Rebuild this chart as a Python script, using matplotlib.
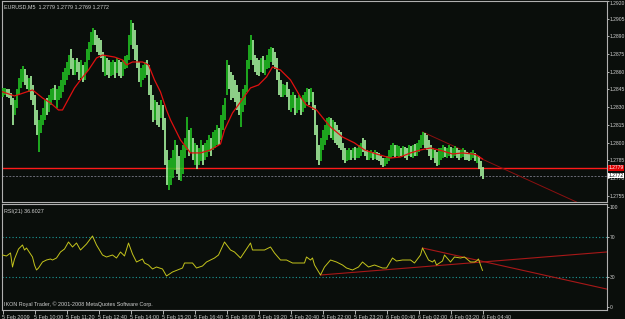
import numpy as np
import matplotlib
matplotlib.use("Agg")
import matplotlib.pyplot as plt
from matplotlib.transforms import blended_transform_factory

# ── Data: EURUSD M5, prices stored as pips above 1.2700 (one value per bar) ──
BASE, PIP = 1.2700, 0.0001

high_pips = [
    146, 146, 145, 145, 142, 138, 136, 145, 155, 162,
    165, 162, 157, 155, 156, 149, 140, 128, 119, 123,
    129, 136, 138, 140, 145, 146, 149, 145, 148, 153,
    160, 163, 168, 174, 179, 172, 170, 172, 168, 170,
    166, 168, 179, 185, 194, 197, 195, 191, 189, 187,
    177, 174, 172, 170, 168, 170, 168, 172, 170, 168,
    170, 173, 174, 191, 204, 201, 195, 183, 168, 163,
    166, 168, 170, 166, 149, 140, 136, 134, 132, 136,
    132, 121, 94, 85, 87, 94, 102, 98, 89, 94,
    98, 104, 122, 111, 112, 104, 100, 98, 95, 102,
    98, 100, 102, 106, 104, 109, 111, 115, 112, 123,
    132, 138, 170, 166, 160, 157, 153, 149, 143, 138,
    145, 149, 170, 183, 191, 187, 174, 172, 170, 172,
    173, 170, 174, 179, 181, 180, 177, 172, 160, 153,
    150, 149, 151, 145, 140, 143, 140, 138, 140, 138,
    140, 143, 146, 145, 146, 143, 132, 115, 98, 104,
    111, 115, 121, 122, 121, 119, 117, 115, 111, 109,
    100, 95, 94, 95, 94, 95, 96, 95, 98, 100,
    104, 102, 94, 92, 94, 92, 94, 92, 91, 89,
    87, 87, 89, 94, 98, 100, 98, 98, 97, 95,
    97, 96, 95, 98, 97, 98, 99, 100, 102, 106,
    109, 108, 106, 102, 98, 95, 94, 92, 95, 95,
    98, 96, 95, 98, 96, 95, 97, 95, 94, 94,
    95, 94, 92, 91, 92, 94, 91, 89, 89, 84,
    79,
]

low_pips = [
    139, 140, 139, 138, 132, 115, 123, 129, 140, 146,
    151, 149, 145, 143, 136, 132, 115, 106, 92, 108,
    115, 119, 123, 126, 132, 136, 136, 129, 136, 138,
    143, 149, 153, 157, 162, 157, 157, 160, 153, 155,
    151, 153, 160, 170, 177, 183, 183, 177, 174, 172,
    160, 156, 157, 155, 156, 157, 155, 159, 156, 155,
    156, 162, 163, 170, 183, 179, 170, 163, 151, 147,
    153, 155, 157, 140, 128, 117, 119, 115, 113, 121,
    111, 81, 64, 60, 64, 70, 77, 73, 68, 67,
    73, 87, 94, 89, 92, 85, 81, 78, 81, 84,
    81, 85, 88, 92, 89, 94, 95, 98, 98, 102,
    111, 119, 140, 145, 136, 138, 134, 128, 123, 113,
    126, 132, 143, 162, 170, 166, 160, 157, 156, 160,
    159, 157, 162, 163, 168, 166, 162, 153, 140, 139,
    139, 140, 139, 128, 126, 129, 123, 125, 128, 123,
    126, 129, 134, 132, 134, 128, 106, 85, 81, 84,
    94, 98, 102, 106, 104, 102, 100, 98, 95, 94,
    85, 83, 84, 85, 85, 87, 85, 87, 87, 89,
    92, 89, 85, 85, 87, 85, 86, 85, 84, 81,
    79, 80, 82, 84, 87, 89, 87, 89, 88, 89,
    89, 87, 85, 89, 88, 87, 89, 89, 92, 95,
    98, 95, 94, 89, 85, 87, 83, 80, 81, 85,
    87, 88, 87, 89, 87, 87, 89, 87, 85, 87,
    88, 85, 85, 84, 85, 87, 84, 83, 78, 72,
    69,
]

close_pips = [
    143, 145, 141, 140, 136, 129, 133, 140, 151, 157,
    160, 153, 149, 153, 140, 136, 121, 111, 115, 119,
    126, 132, 129, 136, 140, 143, 138, 140, 145, 149,
    155, 157, 162, 168, 166, 162, 168, 163, 157, 166,
    155, 163, 174, 180, 189, 194, 187, 185, 183, 177,
    163, 168, 162, 160, 162, 166, 160, 168, 162, 157,
    166, 168, 170, 187, 200, 195, 177, 168, 155, 157,
    162, 166, 162, 145, 132, 123, 132, 126, 119, 129,
    117, 85, 73, 77, 81, 85, 94, 78, 75, 81,
    94, 98, 106, 94, 102, 92, 94, 85, 89, 98,
    87, 94, 98, 102, 95, 104, 106, 111, 106, 119,
    128, 132, 162, 153, 149, 145, 140, 136, 128, 132,
    140, 145, 166, 174, 183, 172, 168, 163, 162, 166,
    163, 165, 170, 174, 177, 172, 170, 157, 146, 145,
    145, 146, 143, 132, 136, 138, 128, 134, 136, 132,
    136, 140, 143, 138, 140, 132, 111, 94, 89, 98,
    106, 111, 115, 117, 112, 115, 109, 104, 102, 98,
    89, 87, 89, 92, 89, 92, 89, 94, 95, 98,
    95, 94, 89, 89, 90, 89, 91, 88, 87, 84,
    81, 85, 87, 91, 94, 95, 92, 94, 94, 92,
    94, 92, 89, 94, 92, 95, 94, 98, 100, 104,
    106, 102, 98, 94, 92, 94, 85, 84, 89, 94,
    95, 92, 94, 95, 92, 94, 94, 92, 89, 91,
    94, 89, 88, 87, 89, 91, 85, 87, 81, 77,
    72,
]

# red moving average at these bars
ma_bar = [0, 6, 15, 20, 24, 28, 30, 33, 36, 39, 43, 47, 50, 56, 60, 62, 65,
          70, 73, 76, 79, 82, 84, 89, 94, 99, 104, 109, 111, 115, 119, 124,
          128, 132, 135, 139, 144, 149, 152, 157, 161, 164, 170, 176, 181,
          187, 194, 199, 204, 209, 214, 220, 225, 230, 235, 237, 240]
ma_pips = [143, 139.5, 144.6, 137.8, 133.6, 127.6, 127.6, 137, 146.3, 153.1,
           161.5, 171.7, 174.2, 172.5, 170, 165.8, 168.3, 168.3, 165.8, 153.1,
           142.9, 127.6, 119.2, 102.2, 91.2, 91.2, 93.7, 98.8, 110.7, 125.1,
           134.4, 146.3, 148.8, 155.6, 164.1, 161.5, 153.1, 138.6, 131.9,
           127.6, 119.2, 113.2, 104.7, 99.7, 93.7, 90.3, 86.9, 87.8, 91.2,
           93.7, 95.4, 92.9, 90.3, 91.2, 90.3, 89.5, 86.1]

# RSI(21)
rsi_bar = [0, 2, 4, 5, 6, 8, 10, 11, 12, 15, 16, 17, 18, 20, 22, 24, 25, 27,
           29, 31, 33, 35, 37, 39, 42, 45, 47, 50, 52, 55, 57, 59, 61, 63, 65,
           67, 70, 71, 73, 75, 77, 80, 82, 85, 90, 91, 95, 97, 100, 102, 106,
           108, 111, 114, 116, 119, 121, 124, 125, 128, 131, 134, 136, 139,
           142, 145, 149, 151, 152, 154, 155, 156, 159, 161, 164, 167, 170,
           172, 175, 178, 180, 183, 186, 190, 192, 195, 197, 200, 204, 206,
           209, 210, 213, 215, 216, 217, 220, 221, 224, 226, 229, 231, 234,
           236, 237, 238, 239, 240]
rsi_val = [52, 51, 54, 40, 48, 58, 62, 57, 59, 50, 42, 37, 39, 45, 47, 48, 47,
           49, 55, 58, 65, 60, 64, 57, 63, 71, 62, 52, 50, 52, 49, 55, 51, 64,
           53, 45, 48, 44, 42, 38, 40, 38, 31, 35, 39, 44, 44, 39, 41, 45, 49,
           52, 65, 57, 55, 49, 55, 64, 57, 57, 57, 60, 54, 47, 47, 44, 44, 44,
           50, 47, 49, 42, 32, 40, 47, 45, 42, 39, 37, 40, 45, 40, 42, 39, 39,
           49, 46, 47, 47, 44, 52, 59, 47, 45, 47, 42, 46, 52, 45, 50, 49, 50,
           45, 45, 46, 48, 42, 36.6]

price_ticks = [1.2920, 1.2905, 1.2890, 1.2875, 1.2860, 1.2845, 1.2830,
               1.2815, 1.2800, 1.2785, 1.2770, 1.2755]
rsi_ticks = [100, 70, 30, 0]
rsi_levels = [70, 30]

time_bar = [0, 16, 32, 48, 64, 80, 96, 112, 128, 144, 160, 176, 192, 208,
            224, 240]
time_labels = ["5 Feb 2009", "5 Feb 10:00", "5 Feb 11:20", "5 Feb 12:40",
               "5 Feb 14:00", "5 Feb 15:20", "5 Feb 16:40", "5 Feb 18:00",
               "5 Feb 19:20", "5 Feb 20:40", "5 Feb 22:00", "5 Feb 23:20",
               "6 Feb 00:40", "6 Feb 02:00", "6 Feb 03:20", "6 Feb 04:40"]

support_level = 1.27785
bid_price = 1.2772
trend_bar, trend_price = [210, 287], [1.2809, 1.27496]
rsi_up_bar, rsi_up_val = [159, 302], [32, 55]
rsi_dn_bar, rsi_dn_val = [210, 302], [59, 18]

# ── Style ─────────────────────────────────────────────────────────────────────
plt.rcParams["font.family"] = ["Liberation Sans Narrow", "Liberation Sans", "DejaVu Sans"]
BG = "#0a0e0b"
FRAME = "#b0b0b0"
TXT = "#d0d0d0"
FS = 3.9      # panel texts and time labels
FS_R = 3.6    # right-hand price scale

high = BASE + np.array(high_pips) * PIP
low = BASE + np.array(low_pips) * PIP
close = BASE + np.array(close_pips) * PIP
ma = BASE + np.array(ma_pips) * PIP
bars = np.arange(len(close))

W, H = 625, 319


def box(x0, y0, x1, y1):
    return [x0 / W, 1 - y1 / H, (x1 - x0) / W, (y1 - y0) / H]


fig = plt.figure(figsize=(W / 100, H / 100), dpi=100, facecolor=BG)
ax = fig.add_axes(box(2, 1, 607, 202), facecolor=BG)
ax2 = fig.add_axes(box(2, 204, 607, 310), facecolor=BG, sharex=ax)

for a in (ax, ax2):
    for s in a.spines.values():
        s.set_color(FRAME)
        s.set_linewidth(0.8)
    a.yaxis.tick_right()
    a.tick_params(axis="y", colors=TXT, labelsize=FS_R, length=1.5, width=0.6, pad=0.6)

# ── Price panel ───────────────────────────────────────────────────────────────
down = np.r_[False, np.diff(close) < 0]
colors = np.where(down, "#a8f5a0", "#22c322")
ax.vlines(bars, low, high, colors=colors, linewidth=1.2, zorder=3)

ax.plot(ma_bar, ma, color="#e01010", lw=0.9, zorder=4)
ax.axhline(support_level, color="#ff1a1a", lw=1.0, zorder=2)
ax.axhline(bid_price, color="#6c6c78", lw=0.7, ls=(0, (2, 1.5)), zorder=2)
ax.plot(trend_bar, trend_price, color="#8c1010", lw=0.7, zorder=2)

ax.set_xlim(-0.25, 302.25)
ax.set_ylim(1.27496, 1.2920)
ax.set_yticks(price_ticks)
ax.set_yticklabels([f"{t:.4f}" for t in price_ticks])
ax.get_yticklabels()[0].set_va("top")
ax.tick_params(axis="x", length=0, labelbottom=False)

ytr = blended_transform_factory(ax.transAxes, ax.transData)
ax.text(1.002, support_level, "1.2779", transform=ytr, fontsize=FS_R,
        color="white", va="center", ha="left", clip_on=False, zorder=10,
        bbox=dict(fc="#e00000", ec="none", pad=0.5))
ax.text(1.002, bid_price, "1.2772", transform=ytr, fontsize=FS_R,
        color="black", va="center", ha="left", clip_on=False, zorder=10,
        bbox=dict(fc="white", ec="none", pad=0.3))

ax.text(0.004, 0.985, "EURUSD,M5  1.2779 1.2779 1.2769 1.2772",
        transform=ax.transAxes, fontsize=FS, color=TXT, va="top", ha="left")

# ── RSI panel ─────────────────────────────────────────────────────────────────
for lv in rsi_levels:
    ax2.axhline(lv, color="#1e9a9a", lw=0.8, ls=(0, (1, 2)))
ax2.plot(rsi_bar, rsi_val, color="#c4c41c", lw=0.7, zorder=3)
ax2.plot(rsi_up_bar, rsi_up_val, color="#a81818", lw=0.8, zorder=2)
ax2.plot(rsi_dn_bar, rsi_dn_val, color="#a81818", lw=0.8, zorder=2)

ax2.set_ylim(-3, 103)
ax2.set_yticks(rsi_ticks)
ax2.set_yticklabels([str(t) for t in rsi_ticks])

ax2.set_xticks(time_bar)
ax2.set_xticklabels(time_labels)
ax2.tick_params(axis="x", colors=TXT, labelsize=FS, length=3, width=0.6, pad=0.3)
for lab in ax2.get_xticklabels():
    lab.set_ha("left")

ax2.text(0.004, 0.955, "RSI(21) 36.6027", transform=ax2.transAxes,
         fontsize=FS, color=TXT, va="top", ha="left")
ax2.text(0.004, 0.03, "IKON Royal Trader, \u00a9 2001-2008 MetaQuotes Software Corp.",
         transform=ax2.transAxes, fontsize=FS, color=TXT, va="bottom", ha="left")

fig.savefig("out.png", dpi=100, facecolor=BG)
